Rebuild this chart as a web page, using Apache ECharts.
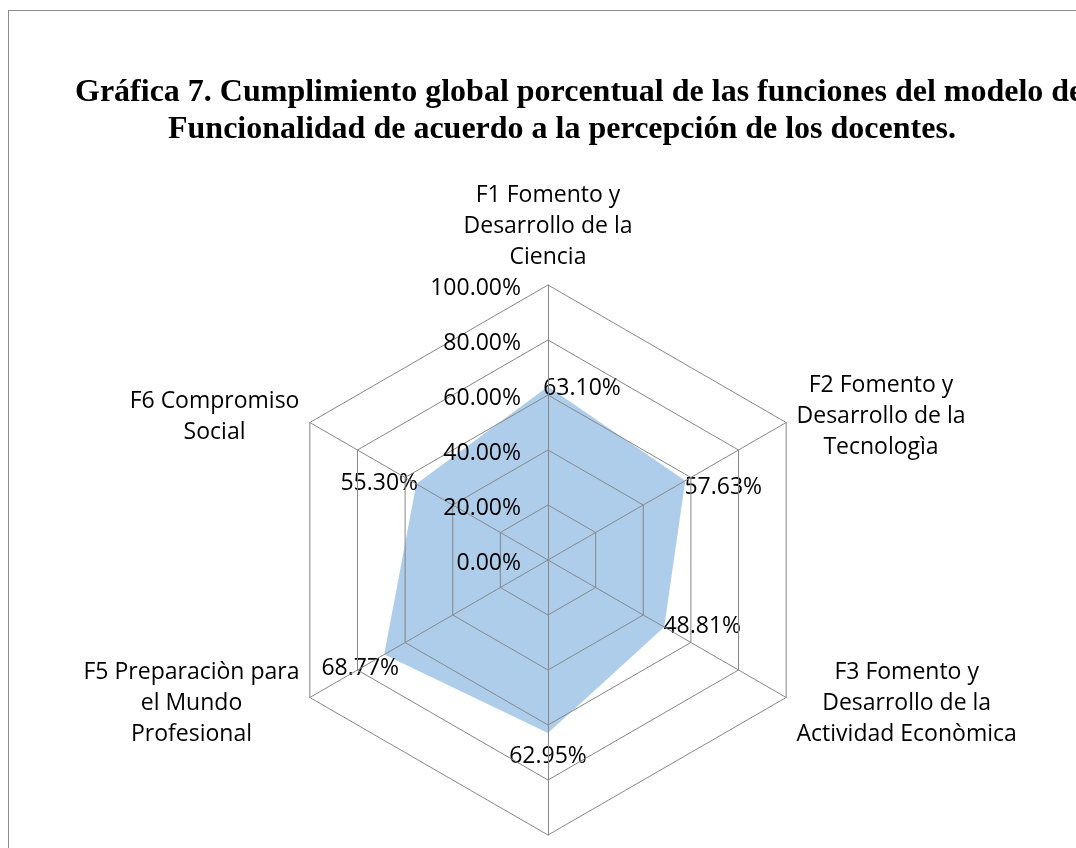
<!DOCTYPE html>
<html>
<head>
<meta charset="utf-8">
<script src="https://cdn.jsdelivr.net/npm/echarts@6/dist/echarts.min.js"></script>
<style>
  html, body { margin: 0; padding: 0; background: #fff; overflow: hidden; }
  #frame { position: absolute; left: 8px; top: 10px; width: 1200px; height: 1000px; border: 1px solid #8c8c8c; }
  #chart { position: absolute; left: 0; top: 0; width: 1076px; height: 848px; }
</style>
</head>
<body>
<div id="frame"></div>
<div id="chart"></div>
<script>
var titleLines = [
    'Gráfica 7. Cumplimiento global porcentual de las funciones del modelo de',
    'Funcionalidad de acuerdo a la percepción de los docentes.'
];
var funciones = [
    'F1 Fomento y\nDesarrollo de la\nCiencia',
    'F2 Fomento y\nDesarrollo de la\nTecnologìa',
    'F3 Fomento y\nDesarrollo de la\nActividad Econòmica',
    'F4 Fomento y\nDesarrollo de la\nCultura',
    'F5 Preparaciòn para\nel Mundo\nProfesional',
    'F6 Compromiso\nSocial'
];
var cumplimiento = [63.10, 57.63, 48.81, 62.95, 68.77, 55.30];
var ejeMax = 100;

// desplazamiento de cada etiqueta de dato respecto a su punto [dx, dy], por funcion F1..F6
var labelShift = [[34, 2], [38, 7], [38, -1], [0, 23], [-24, 14], [-37, -1]];

var FONT = '"Open Sans", sans-serif';
var FS = 23;

// echarts recorre el radar en sentido antihorario: F1, F6, F5, ... F2
var orden = [0, 5, 4, 3, 2, 1];

var myChart = echarts.init(document.getElementById('chart'));

var rich = {};
labelShift.forEach(function (s, i) {
    var dx = s[0], dy = s[1];
    rich['d' + i] = {
        fontSize: FS,
        fontFamily: FONT,
        color: '#000',
        padding: [Math.max(0, 2 * dy), Math.max(0, -2 * dx), Math.max(0, -2 * dy), Math.max(0, 2 * dx)]
    };
});

var indicator = orden.map(function (f, i) {
    var ind = { name: funciones[f], max: ejeMax, min: 0 };
    if (i === 0) {
        ind.axisLabel = {
            show: true,
            margin: 27,
            color: '#000',
            fontSize: FS,
            fontFamily: FONT,
            formatter: function (v) { return '{t|' + Number(v).toFixed(2) + '%}'; },
            rich: {
                t: { fontSize: FS, fontFamily: FONT, color: '#000', padding: [6, 0, 0, 0] }
            }
        };
    }
    return ind;
});

var valores = orden.map(function (f) { return cumplimiento[f]; });

option = {
    backgroundColor: 'transparent',
    animation: false,
    title: [
        {
            text: titleLines[0],
            left: 70, top: 72,
            textStyle: { fontFamily: '"Liberation Serif", serif', fontWeight: 'bold', fontSize: 32, color: '#000' }
        },
        {
            text: titleLines[1],
            left: 163, top: 109,
            textStyle: { fontFamily: '"Liberation Serif", serif', fontWeight: 'bold', fontSize: 32, color: '#000' }
        }
    ],
    radar: {
        z: 3,
        center: [548, 560],
        radius: 275,
        shape: 'polygon',
        splitNumber: 5,
        indicator: indicator,
        axisNameGap: 12,
        axisName: {
            color: '#000',
            fontSize: FS,
            fontFamily: FONT,
            lineHeight: 31,
            formatter: function (name) {
                return name.split('\n').map(function (l) { return '{c|' + l + '}'; }).join('\n');
            },
            rich: {
                c: { align: 'center', fontSize: FS, fontFamily: FONT, lineHeight: 31, color: '#000' }
            }
        },
        axisLine: { lineStyle: { color: '#878787', width: 1 } },
        splitLine: { lineStyle: { color: '#878787', width: 1 } },
        splitArea: { show: false },
        axisTick: { show: false },
        axisLabel: { show: false }
    },
    series: [
        {
            type: 'radar',
            z: 1,
            symbol: 'circle',
            symbolSize: 0,
            lineStyle: { width: 0, opacity: 0 },
            areaStyle: { color: 'rgba(91,155,213,0.5)', opacity: 1 },
            label: {
                show: true,
                position: 'inside',
                rich: rich,
                formatter: function (p) {
                    var f = p.dimensionIndex != null ? orden[p.dimensionIndex] : cumplimiento.indexOf(p.value);
                    return '{d' + f + '|' + Number(p.value).toFixed(2) + '%}';
                }
            },
            data: [{ value: valores, name: 'Cumplimiento' }]
        }
    ]
};

if (option && typeof option === 'object')
    myChart.setOption(option);
window.addEventListener('resize', function () {
    myChart.resize();
});
</script>
</body>
</html>
